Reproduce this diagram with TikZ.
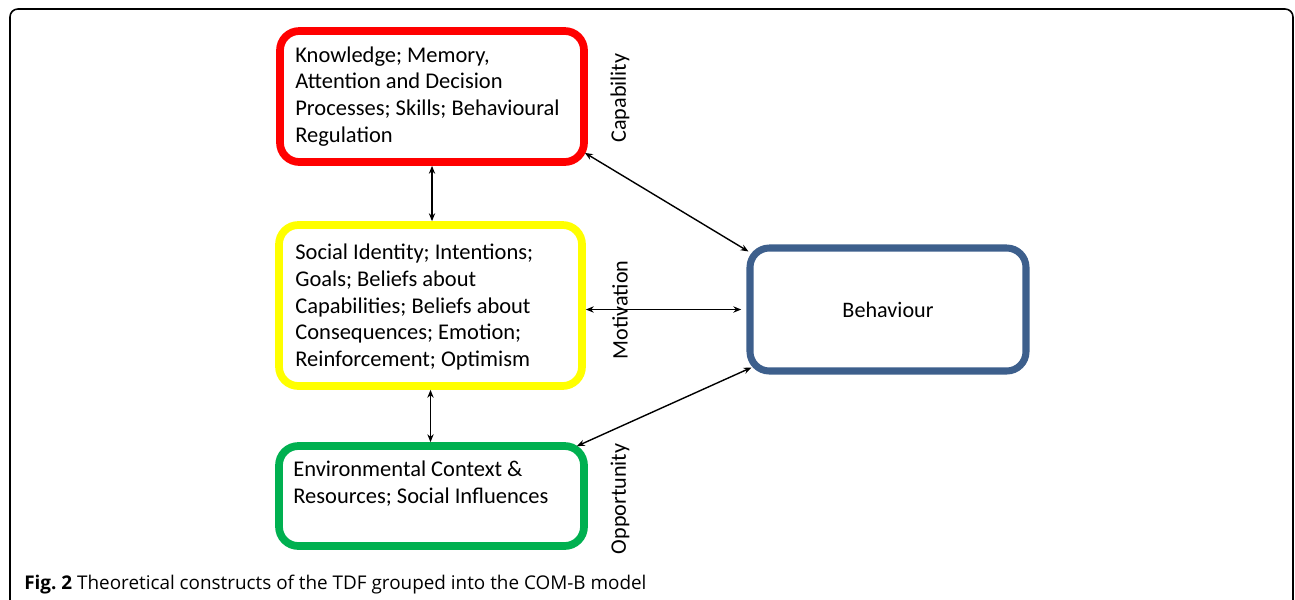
\documentclass[tikz,border=0pt]{standalone}
\usepackage{fontspec}
\setmainfont{Carlito}
\newfontfamily\capfont{Open Sans}
\usetikzlibrary{arrows.meta,calc}
\frenchspacing
\definecolor{cred}{HTML}{FF0000}
\definecolor{cyellow}{HTML}{FFFF00}
\definecolor{cgreen}{HTML}{00B050}
\definecolor{cblue}{HTML}{3D5F8C}
\tikzset{
  combox/.style={draw=#1, line width=4.4pt, rounded corners=11pt, fill=white},
  boxtext/.style={font=\fontsize{12.8}{15.3}\selectfont, align=flush left, text width=5.6cm, inner sep=0pt},
  sidelabel/.style={font=\fontsize{12.6}{15}\selectfont, rotate=90, inner sep=0pt},
  arr/.style={line width=0.8pt, {Stealth[length=4.5pt,width=3.6pt]}-{Stealth[length=4.5pt,width=3.6pt]}},
  frame/.style={line width=0.9pt, draw=black}
}
\begin{document}
\begin{tikzpicture}[x=0.02cm,y=-0.02cm]
\useasboundingbox (0,0) rectangle (1295,599);
\draw[frame, rounded corners=4.5pt] (10,620) -- (10,9) -- (1293,9) -- (1293,620);

\node[combox=cred, minimum width=304*0.02cm, minimum height=131*0.02cm] (cap) at (432,96.5) {};
\node[boxtext, anchor=west] (captext) at (295,96.5) {Knowledge; Memory,\\Attention and Decision\\Processes; Skills; Behavioural\\Regulation};

\node[combox=cyellow, minimum width=303*0.02cm, minimum height=161*0.02cm] (mot) at (430.5,305.5) {};
\node[boxtext, anchor=west] (mottext) at (295,307) {Social Identity; Intentions;\\Goals; Beliefs about\\Capabilities; Beliefs about\\Consequences; Emotion;\\Reinforcement; Optimism};

\node[combox=cgreen, minimum width=305*0.02cm, minimum height=100*0.02cm] (opp) at (431.5,496) {};
\node[boxtext, anchor=west] (opptext) at (293,484) {Environmental Context \&\\Resources; Social Influences};

\node[combox=cblue, line width=4pt, minimum width=276*0.02cm, minimum height=123*0.02cm, font=\fontsize{12.6}{15}\selectfont] (beh) at (888,309.5) {Behaviour};

\node[sidelabel] (lcap) at (620,98) {Capability};
\node[sidelabel] (lmot) at (620,310) {Motivation};
\node[sidelabel] (lopp) at (620,499) {Opportunity};

\draw[arr] (cap.south) -- (cap.south |- mot.north);
\draw[arr] (mot.south) -- (mot.south |- opp.north);
\draw[arr] ($(cap.south east)+(-3,-13)$) -- ($(beh.north west)+(2,7)$);
\draw[arr] (mot.east |- beh.west) -- ([xshift=-3pt]beh.west);
\draw[arr] ($(opp.north east)+(-11,4)$) -- ($(beh.south west)+(5,-7)$);

\node[anchor=base west, inner sep=0pt, font=\capfont\fontsize{10.75}{12}\selectfont] (caption) at (24,589) {\textbf{Fig. 2} Theoretical constructs of the TDF grouped into the COM-B model};
\end{tikzpicture}
\end{document}
